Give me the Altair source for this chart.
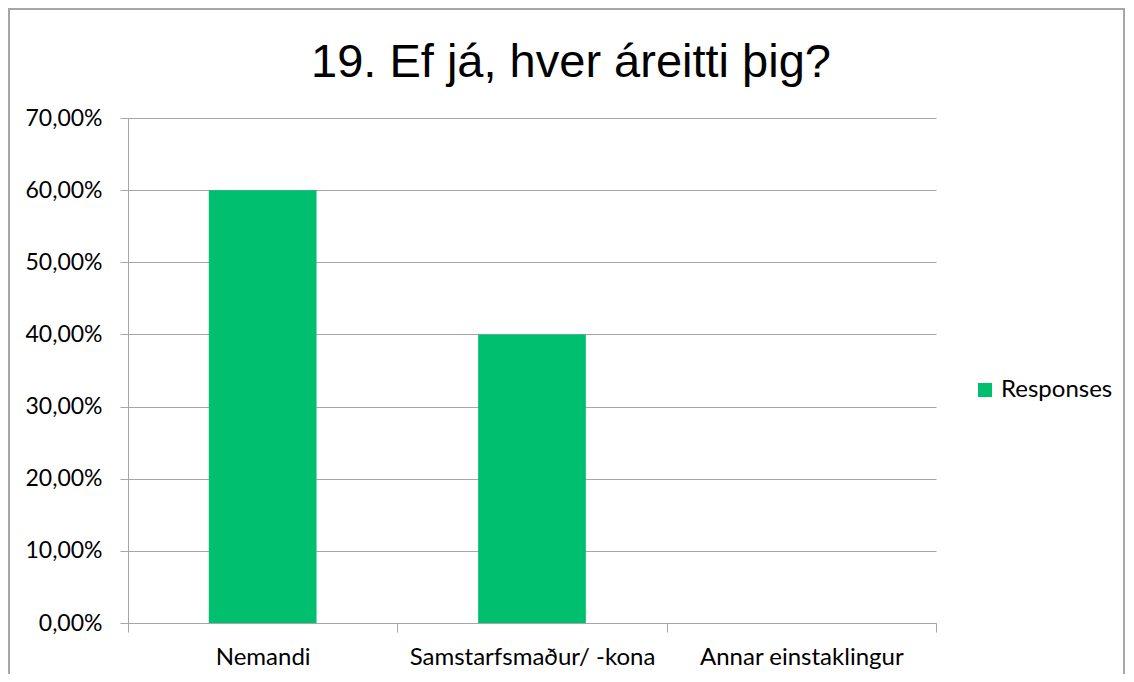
import altair as alt
import pandas as pd

categories = ["Nemandi", "Samstarfsmaður/ -kona", "Annar einstaklingur"]
values = [0.60, 0.40, 0.00]
series = ["Responses", "Responses", "Responses"]
y_ticks = [0.0, 0.1, 0.2, 0.3, 0.4, 0.5, 0.6, 0.7]

df = pd.DataFrame({"category": categories, "value": values, "series": series})

W, H = 808, 505
GRID = "#a6a6a6"
FONT = "Lato"
GREEN = "#00bf6f"

border = alt.Chart(pd.DataFrame({"k": [0]})).mark_rect(
    fill="transparent", stroke=GRID, strokeWidth=2
).encode(
    x=alt.value(-119), x2=alt.value(996), y=alt.value(-109), y2=alt.value(720)
)

bars = alt.Chart(df).mark_bar(width=alt.RelativeBandSize(0.4)).encode(
    x=alt.X(
        "category:N",
        sort=categories,
        scale=alt.Scale(paddingInner=0, paddingOuter=0),
        axis=alt.Axis(
            title=None, labelAngle=0, tickBand="extent", labelLimit=0,
            domainColor=GRID, tickColor=GRID, tickSize=9, labelPadding=13,
            labelFont=FONT, labelFontSize=24, labelColor="#000", grid=False,
        ),
    ),
    y=alt.Y(
        "value:Q",
        scale=alt.Scale(domain=[0, 0.7], nice=False),
        axis=alt.Axis(
            title=None, values=y_ticks,
            labelExpr="replace(format(datum.value, '.2%'), '.', ',')",
            grid=True, gridColor=GRID, domainColor=GRID, tickColor=GRID,
            tickSize=8, labelPadding=18,
            labelFont=FONT, labelFontSize=23, labelColor="#000",
        ),
    ),
    color=alt.Color(
        "series:N",
        scale=alt.Scale(range=[GREEN]),
        legend=alt.Legend(
            title=None, orient="none", legendX=845, legendY=260,
            symbolType="square", symbolSize=196, symbolStrokeWidth=0,
            labelFont=FONT, labelFontSize=24, labelColor="#000",
        ),
    ),
)

chart = alt.layer(border, bars).properties(
    width=W, height=H,
    title=alt.TitleParams(
        "19. Ef já, hver áreitti þig?", font="Liberation Sans", fontSize=47,
        fontWeight="normal", color="#000", anchor="middle", dx=39,
        baseline="alphabetic", offset=-116,
    ),
    autosize=alt.AutoSizeParams(type="none"),
    padding={"left": 120, "top": 110, "right": 190, "bottom": 51},
).configure_view(strokeWidth=0)

chart.save("out.html", embed_options={"renderer": "svg", "actions": False})
